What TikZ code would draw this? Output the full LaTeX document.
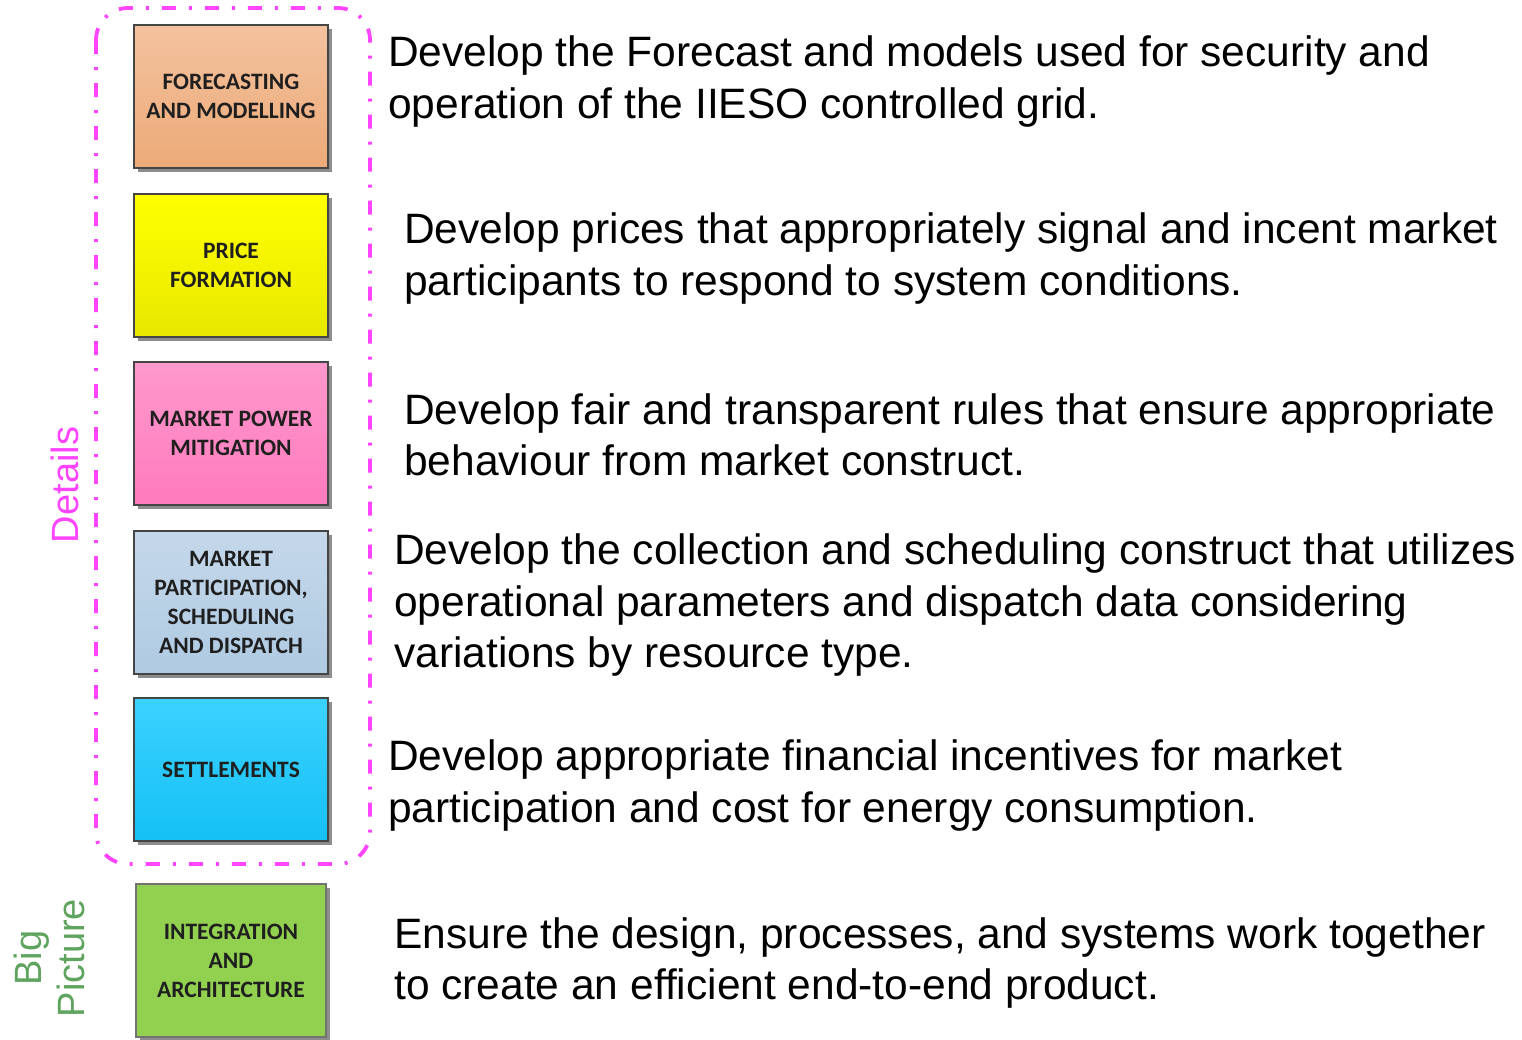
\documentclass[tikz,border=0pt]{standalone}
\usepackage{fontspec}
\setmainfont{Liberation Sans}
\newfontfamily\boxfont{Carlito}
\usepackage{tikz}
\usetikzlibrary{shadows}

\definecolor{framepink}{HTML}{FF44FF}
\definecolor{biggreen}{HTML}{5EA35E}
\definecolor{borderg}{HTML}{454545}
\definecolor{peachtop}{HTML}{F3C29E}
\definecolor{peachbot}{HTML}{EDAA78}
\definecolor{yeltop}{HTML}{FFFF00}
\definecolor{yelbot}{HTML}{E8E800}
\definecolor{pinktop}{HTML}{FF99CC}
\definecolor{pinkbot}{HTML}{FF7ABE}
\definecolor{bluetop}{HTML}{C5D8EA}
\definecolor{bluebot}{HTML}{AFCAE2}
\definecolor{cyantop}{HTML}{3CD2FF}
\definecolor{cyanbot}{HTML}{14C0F5}
\definecolor{intgreen}{HTML}{92D050}

\tikzset{
  area/.style={draw=borderg,line width=2pt,minimum width=194pt,minimum height=143pt,
    align=center,inner sep=2pt,
    font=\boxfont\bfseries\fontsize{23.5}{29}\selectfont,text=black!88,
    drop shadow={shadow xshift=4pt,shadow yshift=-4pt,fill=black!45,opacity=1}},
  goal/.style={anchor=west,align=left,inner sep=0pt,font=\fontsize{42.5}{51.3}\selectfont},
  sidelabel/.style={rotate=90,align=center,inner sep=0pt,font=\fontsize{38}{43}\selectfont}
}

\begin{document}
\begin{tikzpicture}[x=1pt,y=-1pt]
  \useasboundingbox (0,0) rectangle (1522,1039);
  %
  \draw[framepink,line width=3.8pt,rounded corners=32pt,
        dash pattern=on 14pt off 13pt on 3pt off 13pt] (96,8) rectangle (370,864);
  %
  \node[area,top color=peachtop,bottom color=peachbot] (forecast) at (231,96.5) {FORECASTING\\AND MODELLING};
  \node[area,top color=yeltop,bottom color=yelbot] (price) at (231,265.5) {PRICE\\FORMATION};
  \node[area,top color=pinktop,bottom color=pinkbot] (mpm) at (231,433.5) {MARKET POWER\\MITIGATION};
  \node[area,top color=bluetop,bottom color=bluebot] (mpsd) at (231,602) {MARKET\\PARTICIPATION,\\SCHEDULING\\AND DISPATCH};
  \node[area,top color=cyantop,bottom color=cyanbot] (settle) at (231,769.5) {SETTLEMENTS};
  \node[area,fill=intgreen,minimum width=190pt,minimum height=153pt,
        draw=black!55,line width=1.2pt] (integ) at (231,960.5) {INTEGRATION\\AND\\ARCHITECTURE};
  %
  \node[goal] (fcdesc) at (388,81.5) {Develop the Forecast and models used for security and\\operation of the IIESO controlled grid.};
  \node[goal] (prdesc) at (404,258.5) {Develop prices that appropriately signal and incent market\\participants to respond to system conditions.};
  \node[goal] (mpmdesc) at (404,434.5) {Develop fair and transparent rules that ensure appropriate\\behaviour from market construct.};
  \node[goal] (mpsddesc) at (394,605) {Develop the collection and scheduling construct that utilizes\\operational parameters and dispatch data considering\\variations by resource type.};
  \node[goal] (stdesc) at (388,785.5) {Develop appropriate financial incentives for market\\participation and cost for energy consumption.};
  \node[goal] (intdesc) at (394,963) {Ensure the design, processes, and systems work together\\to create an efficient end-to-end product.};
  %
  \node[sidelabel,text=framepink] (details) at (65,485) {Details};
  \node[sidelabel,text=biggreen] (bigpic) at (49,958) {Big\\Picture};
\end{tikzpicture}
\end{document}
